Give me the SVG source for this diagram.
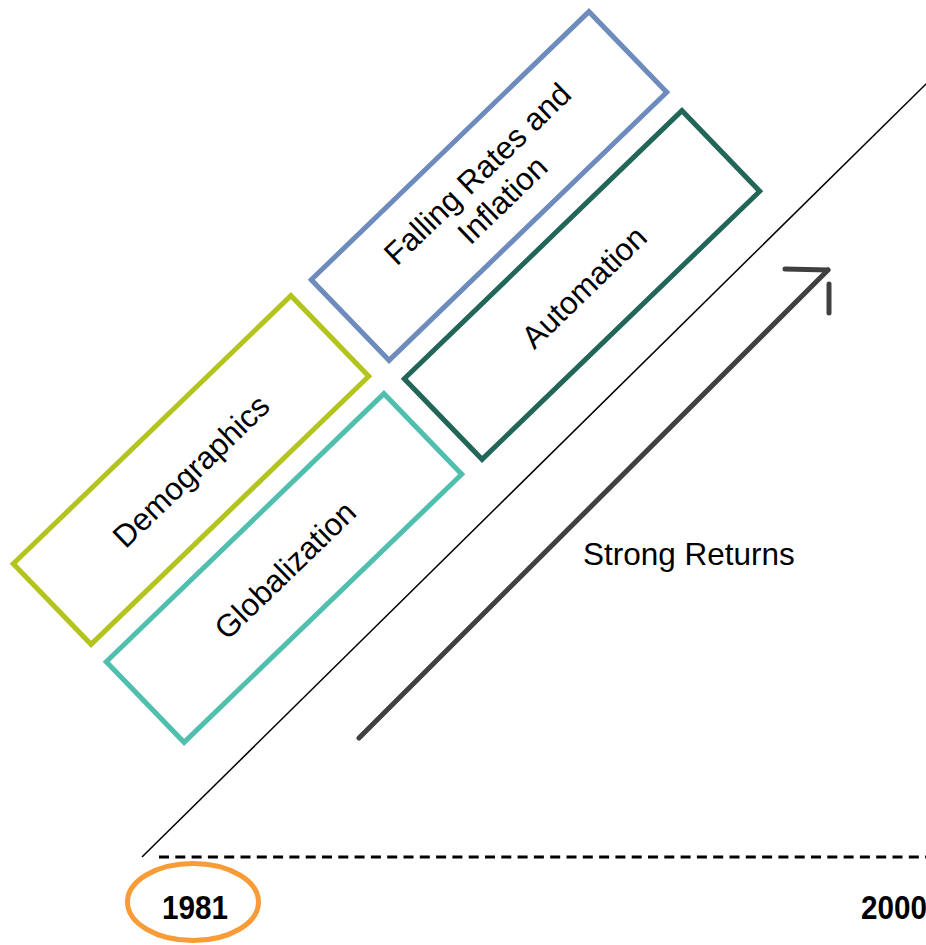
<svg xmlns="http://www.w3.org/2000/svg" width="926" height="945" viewBox="0 0 926 945">
<style>
.box{fill:none;stroke-width:5;stroke-linejoin:miter}
.lbl{font-family:"Liberation Sans",Arial,sans-serif;font-size:31.5px;fill:#000;text-anchor:middle}
.yr{font-family:"Liberation Sans",Arial,sans-serif;font-size:33px;font-weight:bold;fill:#000}
</style>
<rect width="926" height="945" fill="#fff"/>
<g id="connectors">
<line x1="142" y1="857" x2="930" y2="80" stroke="#000" stroke-width="1.5"/>
<line x1="159" y1="857" x2="926" y2="857" stroke="#000" stroke-width="3" stroke-dasharray="10 6.3"/>
<g id="strong-arrow" stroke="#404040" stroke-width="5" stroke-linecap="round" fill="none">
<line x1="359" y1="738" x2="828" y2="270"/>
<line x1="785" y1="269" x2="828" y2="270"/>
<line x1="829" y1="284" x2="829" y2="313"/>
</g>
</g>
<g id="demographics">
<rect class="box" x="-193" y="-56" width="386" height="112" stroke="#B3C41F" transform="translate(191,470) rotate(-44)"/>
<text class="lbl" transform="translate(191,471) rotate(-44)" dy="11">Demographics</text>
</g>
<g id="globalization">
<rect class="box" x="-193" y="-56" width="386" height="112" stroke="#50BFAE" transform="translate(284,568) rotate(-44)"/>
<text class="lbl" transform="translate(285,570) rotate(-44)" dy="11">Globalization</text>
</g>
<g id="falling-rates">
<rect class="box" x="-193" y="-56" width="386" height="112" stroke="#6E8BBE" transform="translate(489,186) rotate(-44)"/>
<text class="lbl" transform="translate(489,186) rotate(-44)"><tspan x="0" y="-6">Falling Rates and</tspan><tspan x="0" y="30">Inflation</tspan></text>
</g>
<g id="automation">
<rect class="box" x="-193" y="-56" width="386" height="112" stroke="#22665A" transform="translate(582,285) rotate(-44)"/>
<text class="lbl" transform="translate(584,287) rotate(-44)" dy="11">Automation</text>
</g>
<g id="strong-returns">
<text x="583" y="565" font-family="Liberation Sans, Arial, sans-serif" font-size="31.5" fill="#000">Strong Returns</text>
</g>
<g id="year-1981">
<ellipse cx="193" cy="902" rx="65.5" ry="38.5" fill="none" stroke="#F99B36" stroke-width="5"/>
<text class="yr" x="162" y="919" textLength="66" lengthAdjust="spacingAndGlyphs">1981</text>
</g>
<g id="year-2000">
<text class="yr" x="861" y="919" textLength="66" lengthAdjust="spacingAndGlyphs">2000</text>
</g>
</svg>
